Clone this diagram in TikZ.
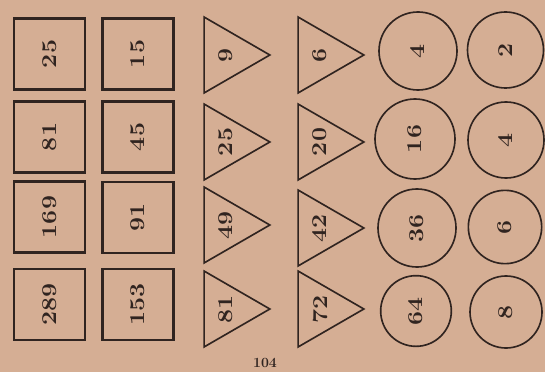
\documentclass[tikz,border=0pt]{standalone}
\usepackage{graphicx}
\usetikzlibrary{shapes.geometric}
\definecolor{paper}{RGB}{213,174,148}
\definecolor{ink}{RGB}{48,36,32}
\newcommand{\wnum}[1]{\scalebox{1.12}[0.95]{#1}}
\tikzset{
  fig label/.style={font=\fontsize{19}{22}\selectfont\bfseries,text=ink,rotate=90,inner sep=0pt},
  sq box/.style={fig label,draw=ink,line width=2.1pt,minimum size=2.13cm},
  tri box/.style={fig label,draw=ink,line width=1.4pt,regular polygon,
    regular polygon sides=3,shape border rotate=180,minimum size=2.63cm},
  ring box/.style={fig label,draw=ink,line width=1.4pt,circle,minimum size=2.34cm}
}

\begin{document}
\begin{tikzpicture}[x=0.03cm,y=-0.03cm]
        \fill[paper] (0,0) rectangle (545,372);
        \useasboundingbox (0,0) rectangle (545,372);

        % squares
        \node[sq box] (sqa1) at (49.5,54) {\wnum{25}};
        \node[sq box] (sqa2) at (49.5,137) {\wnum{81}};
        \node[sq box] (sqa3) at (49.5,217) {\wnum{169}};
        \node[sq box] (sqa4) at (49.5,304.5) {\wnum{289}};
        \node[sq box] (sqb1) at (138,54) {\wnum{15}};
        \node[sq box] (sqb2) at (138,137) {\wnum{45}};
        \node[sq box] (sqb3) at (138,217.5) {\wnum{91}};
        \node[sq box] (sqb4) at (138,304.5) {\wnum{153}};

        % triangles
        \node[tri box] (tra1) at (226,55) {\wnum{9}};
        \node[tri box] (tra2) at (226,142) {\wnum{25}};
        \node[tri box] (tra3) at (226,225) {\wnum{49}};
        \node[tri box] (tra4) at (226,309) {\wnum{81}};
        \node[tri box] (trb1) at (320,55) {\wnum{6}};
        \node[tri box] (trb2) at (320,142) {\wnum{20}};
        \node[tri box] (trb3) at (320,228) {\wnum{42}};
        \node[tri box] (trb4) at (320,309) {\wnum{72}};

        % circles
        \node[ring box] (cia1) at (418,51) {\wnum{4}};
        \node[ring box,minimum size=2.4cm] (cia2) at (415,139) {\wnum{16}};
        \node[ring box] (cia3) at (417,228) {\wnum{36}};
        \node[ring box,minimum size=2.12cm] (cia4) at (416,311) {\wnum{64}};
        \node[ring box,minimum size=2.28cm] (cib1) at (505.5,50) {\wnum{2}};
        \node[ring box,minimum size=2.28cm] (cib2) at (506,140) {\wnum{4}};
        \node[ring box,minimum size=2.2cm] (cib3) at (505,227) {\wnum{6}};
        \node[ring box,minimum size=2.16cm] (cib4) at (506,312) {\wnum{8}};

        \node[font=\fontsize{12}{14}\selectfont\bfseries,text=ink] (page) at (265,363) {104};
      \end{tikzpicture}
\end{document}
